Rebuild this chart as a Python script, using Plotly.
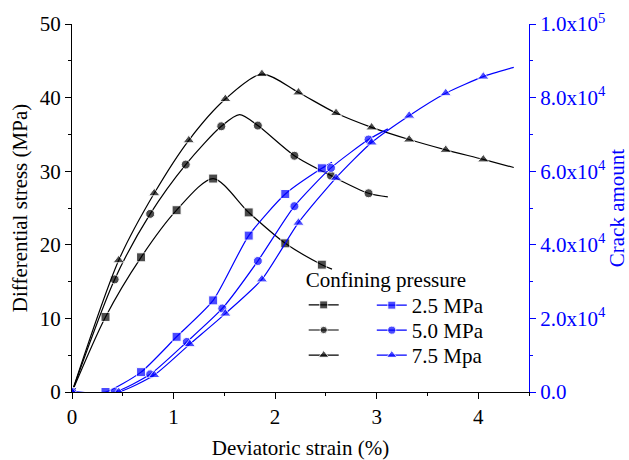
import plotly.graph_objects as go

# ---------------- data ----------------
# Differential stress (MPa) vs deviatoric strain (%)
strain_s25 = [0.0, 0.33, 0.68, 1.03, 1.39, 1.74, 2.10, 2.46]
stress_s25 = [0.0, 10.2, 18.3, 24.7, 29.0, 24.4, 20.2, 17.3]
strain_s25_extra = [2.56]
stress_s25_extra = [16.7]

strain_s50 = [0.0, 0.42, 0.77, 1.12, 1.47, 1.83, 2.19, 2.55, 2.92]
stress_s50 = [0.0, 15.3, 24.2, 30.9, 36.1, 36.2, 32.1, 29.4, 27.0]
strain_s50_extra = [1.65, 3.11]
stress_s50_extra = [37.7, 26.5]

strain_s75 = [0.0, 0.46, 0.81, 1.15, 1.51, 1.87, 2.23, 2.60, 2.95, 3.32, 3.68, 4.05]
stress_s75 = [0.0, 17.9, 27.0, 34.2, 39.8, 43.2, 40.7, 37.9, 35.95, 34.3, 32.9, 31.6]
strain_s75_extra = [4.35]
stress_s75_extra = [30.5]

# Crack amount vs deviatoric strain (%)
crack_strain_25 = [0.0, 0.33, 0.68, 1.03, 1.39, 1.74, 2.10, 2.46]
crack_25 = [0, 0, 5400, 15000, 24900, 42500, 53800, 60800]
crack_strain_25_extra = [2.56]
crack_25_extra = [62400]

crack_strain_50 = [0.0, 0.42, 0.77, 1.13, 1.48, 1.83, 2.19, 2.55, 2.92]
crack_50 = [0, 0, 4800, 13600, 22700, 35600, 50500, 60900, 68600]
crack_strain_50_extra = [3.11]
crack_50_extra = [71500]

crack_strain_75 = [0.0, 0.46, 0.81, 1.16, 1.51, 1.87, 2.23, 2.60, 2.95, 3.32, 3.68, 4.05]
crack_75 = [0, 0, 4600, 13000, 21300, 30600, 46000, 58200, 67800, 75100, 81200, 85700]
crack_strain_75_extra = [4.35]
crack_75_extra = [88200]

series_names = ["2.5 MPa", "5.0 MPa", "7.5 Mpa"]
legend_title = "Confining pressure"
x_ticks = [0, 1, 2, 3, 4]
y2_tickvals = [0, 20000, 40000, 60000, 80000, 100000]
y2_ticktext = ["0.0", "2.0x10<sup>4</sup>", "4.0x10<sup>4</sup>", "6.0x10<sup>4</sup>",
               "8.0x10<sup>4</sup>", "1.0x10<sup>5</sup>"]

# ---------------- figure ----------------
FONT = "Liberation Serif, Times New Roman, serif"
BLUE = "#0000ff"
fig = go.Figure()


def merged(xm, ym, xe, ye, size):
    pts = [(x, y, size) for x, y in zip(xm, ym)] + [(x, y, 0) for x, y in zip(xe, ye)]
    pts.sort(key=lambda p: p[0])
    return [p[0] for p in pts], [p[1] for p in pts], [p[2] for p in pts]


symbols = ["square", "circle", "triangle-up"]
stress_sets = [
    (strain_s25, stress_s25, strain_s25_extra, stress_s25_extra),
    (strain_s50, stress_s50, strain_s50_extra, stress_s50_extra),
    (strain_s75, stress_s75, strain_s75_extra, stress_s75_extra),
]
crack_sets = [
    (crack_strain_25, crack_25, crack_strain_25_extra, crack_25_extra),
    (crack_strain_50, crack_50, crack_strain_50_extra, crack_50_extra),
    (crack_strain_75, crack_75, crack_strain_75_extra, crack_75_extra),
]

for i, (xm, ym, xe, ye) in enumerate(stress_sets):
    msize = 9 if symbols[i] != "triangle-up" else 10
    xs, ys, sz = merged(xm, ym, xe, ye, msize)
    fig.add_trace(go.Scatter(
        x=xs, y=ys, mode="lines+markers", name=" ",
        line=dict(color="black", width=1.2, shape="spline", smoothing=0.8),
        marker=dict(symbol=symbols[i], size=sz, color="black"),
        legend="legend", yaxis="y"))

blue_legends = ["legend2", "legend3", "legend4"]
for i, (xm, ym, xe, ye) in enumerate(crack_sets):
    msize = 9 if symbols[i] != "triangle-up" else 10
    xs, ys, sz = merged(xm, ym, xe, ye, msize)
    fig.add_trace(go.Scatter(
        x=xs, y=ys, mode="lines+markers", name=series_names[i],
        line=dict(color=BLUE, width=1.2, shape="spline", smoothing=0.6),
        marker=dict(symbol=symbols[i], size=sz, color=BLUE),
        legend=blue_legends[i], yaxis="y2"))

axis_font = dict(family=FONT, size=21, color="black")
blue_legend_common = dict(
    xanchor="left", yanchor="top", bgcolor="rgba(0,0,0,0)", borderwidth=0,
    font=dict(family=FONT, size=21, color="black"), itemwidth=30, tracegroupgap=0,
)
fig.update_layout(
    width=629, height=460,
    margin=dict(l=72, r=100, t=24, b=68),
    paper_bgcolor="white", plot_bgcolor="white",
    font=dict(family=FONT, size=21, color="black"),
    showlegend=True,
    xaxis=dict(
        range=[0, 4.5], tickvals=x_ticks, showgrid=False, zeroline=False,
        automargin=False,
        showline=True, linecolor="black", linewidth=1,
        ticks="outside", ticklen=6, tickcolor="black", tickwidth=1,
        minor=dict(dtick=0.5, ticks="outside", ticklen=3, tickcolor="black", showgrid=False),
        tickfont=axis_font,
        title=dict(text="Deviatoric strain (%)", font=axis_font, standoff=12),
    ),
    yaxis=dict(
        range=[0, 50], dtick=10, showgrid=False, zeroline=False,
        automargin=False,
        showline=True, linecolor="black", linewidth=1,
        ticks="outside", ticklen=6, tickcolor="black", tickwidth=1,
        minor=dict(dtick=5, ticks="outside", ticklen=3, tickcolor="black", showgrid=False),
        tickfont=axis_font,
        title=dict(text="Differential stress (MPa)", font=axis_font, standoff=6),
    ),
    yaxis2=dict(
        range=[0, 100000], overlaying="y", side="right",
        automargin=False,
        tickvals=y2_tickvals, ticktext=y2_ticktext,
        showgrid=False, zeroline=False,
        showline=True, linecolor=BLUE, linewidth=1,
        ticks="outside", ticklen=6, tickcolor=BLUE, tickwidth=1,
        minor=dict(dtick=10000, ticks="outside", ticklen=3, tickcolor=BLUE, showgrid=False),
        tickfont=dict(family=FONT, size=21, color=BLUE),
        title=dict(text="Crack amount", font=dict(family=FONT, size=21, color=BLUE), standoff=6),
    ),
    legend=dict(
        x=0.507, y=0.3586, xanchor="left", yanchor="top",
        bgcolor="rgba(0,0,0,0)", borderwidth=0,
        font=dict(family=FONT, size=17, color="black"),
        title=dict(text=legend_title, font=dict(family=FONT, size=21, color="black")),
        itemwidth=30, tracegroupgap=0,
    ),
    legend2=dict(x=0.656, y=0.2907, **blue_legend_common),
    legend3=dict(x=0.656, y=0.2228, **blue_legend_common),
    legend4=dict(x=0.656, y=0.1549, **blue_legend_common),
)

fig.write_html("out.html")
